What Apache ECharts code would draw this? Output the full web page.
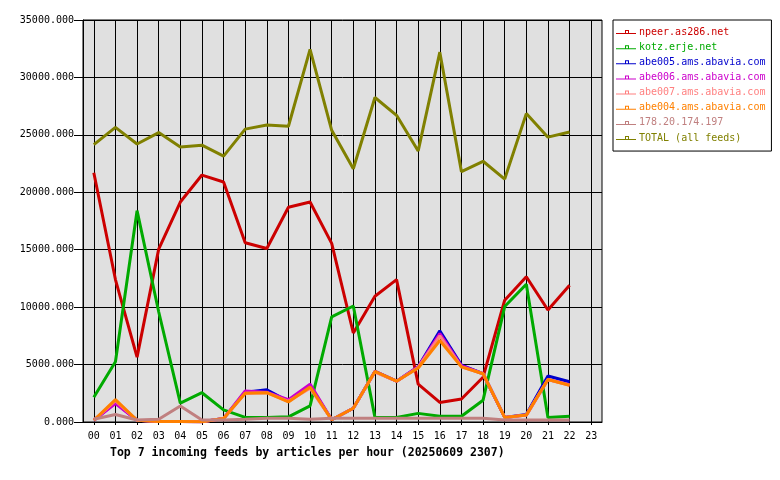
<!DOCTYPE html>
<html>
<head>
<meta charset="utf-8">
<script src="https://cdn.jsdelivr.net/npm/echarts@6/dist/echarts.min.js"></script>
<style>
html,body{margin:0;padding:0;background:#fff;}
#c{width:780px;height:480px;}
</style>
</head>
<body>
<div id="c"></div>
<script>
var hours = ['00','01','02','03','04','05','06','07','08','09','10','11','12','13','14','15','16','17','18','19','20','21','22','23'];
var seriesNames = ['npeer.as286.net','kotz.erje.net','abe005.ams.abavia.com','abe006.ams.abavia.com','abe007.ams.abavia.com','abe004.ams.abavia.com','178.20.174.197','TOTAL (all feeds)'];
var seriesColors = ['#cc0000','#00aa00','#0000cc','#cc00cc','#ff8080','#ff8000','#c08080','#808000'];

var npeer  = [21700, 12400, 5650, 15050, 19150, 21500, 20900, 15600, 15100, 18700, 19150, 15550, 7750, 10950, 12400, 3300, 1700, 2000, 3900, 10600, 12650, 9750, 11900];
var kotz   = [2150, 5250, 18400, 9600, 1650, 2550, 1050, 400, 400, 450, 1400, 9150, 10100, 400, 400, 750, 500, 500, 1900, 10050, 12000, 400, 500];
var abe005 = [150, 1700, 150, 50, 50, 20, 300, 2600, 2800, 1800, 3150, 200, 1200, 4400, 3550, 4800, 7950, 4950, 4200, 400, 650, 4000, 3500];
var abe006 = [150, 1600, 150, 50, 50, 20, 300, 2700, 2600, 1950, 3300, 200, 1200, 4400, 3550, 4800, 7700, 4900, 4200, 400, 600, 3700, 3250];
var abe007 = [150, 1850, 150, 50, 50, 20, 300, 2500, 2550, 1800, 2950, 200, 1200, 4350, 3550, 4750, 7500, 4800, 4200, 400, 600, 3700, 3200];
var abe004 = [150, 1950, 150, 50, 50, 20, 300, 2500, 2550, 1750, 3050, 200, 1200, 4400, 3550, 4700, 7100, 4800, 4200, 400, 600, 3700, 3200];
var host178 = [235, 650, 175, 235, 1400, 175, 175, 235, 320, 320, 235, 320, 320, 320, 320, 320, 320, 320, 320, 170, 170, 170, 170];
var total  = [24150, 25650, 24200, 25200, 23950, 24100, 23150, 25500, 25850, 25750, 32450, 25400, 22050, 28250, 26700, 23600, 32200, 21800, 22700, 21150, 26850, 24800, 25250];

var yMin = 0, yMax = 35000, yStep = 5000;
var titleText = 'Top 7 incoming feeds by articles per hour (20250609 2307)';

var allData = [npeer, kotz, abe005, abe006, abe007, abe004, host178, total];
var mono = 'DejaVu Sans Mono';

var chart = echarts.init(document.getElementById('c'), null, {renderer:'canvas'});
var option = {
  animation: false,
  backgroundColor: '#ffffff',
  title: {
    text: titleText,
    left: 110, top: 446,
    padding: 0,
    textStyle: {fontFamily: mono, fontSize: 11.5, fontWeight: 'bold', color: '#000', lineHeight: 14}
  },
  legend: {
    orient: 'vertical',
    left: 613, top: 20,
    padding: [6, 6, 7, 3],
    borderColor: '#000', borderWidth: 1,
    backgroundColor: '#fff',
    itemWidth: 20, itemHeight: 8, itemGap: 3.15,
    icon: 'path://M0,6 H20 V7 H0 Z M9,3 H13 V6 H12 V4 H10 V6 H9 Z',
    textStyle: {fontFamily: mono, fontSize: 10, lineHeight: 12, padding: [0, 0, 0, -2]},
    data: seriesNames.map(function(n, i){ return {name: n, textStyle: {color: seriesColors[i]}}; })
  },
  grid: {
    left: 83, right: 178, top: 20, bottom: 58,
    show: true, backgroundColor: '#e0e0e0', borderColor: '#000', borderWidth: 1
  },
  xAxis: [{
    type: 'category', data: hours, boundaryGap: true,
    axisLine: {show: true, lineStyle: {color: '#000', width: 1}},
    axisTick: {show: true, alignWithLabel: true, interval: 0, length: 3, lineStyle: {color: '#000'}},
    axisLabel: {interval: 0, margin: 9, fontFamily: mono, fontSize: 10, color: '#000'},
    splitLine: {show: false}
  }, {
    type: 'category', data: hours, boundaryGap: true, position: 'bottom',
    axisLine: {show: false},
    axisTick: {show: true, inside: true, alignWithLabel: true, interval: 0, length: 402, lineStyle: {color: '#000', width: 1}},
    axisLabel: {show: false},
    splitLine: {show: false}
  }],
  yAxis: {
    type: 'value', min: yMin, max: yMax, interval: yStep,
    axisLine: {show: true, lineStyle: {color: '#000'}},
    axisTick: {show: true, length: 9, lineStyle: {color: '#000'}},
    axisLabel: {margin: 9, fontFamily: mono, fontSize: 10, color: '#000',
      formatter: function(v){ return v.toFixed(3); }},
    splitLine: {show: true, lineStyle: {color: '#000', width: 1}}
  },
  series: seriesNames.map(function(n, i){
    return {
      name: n, type: 'line', data: allData[i],
      xAxisIndex: 0,
      symbol: 'none', showSymbol: false,
      lineStyle: {color: seriesColors[i], width: 3},
      itemStyle: {color: seriesColors[i]},
      emphasis: {disabled: true}
    };
  })
};
chart.setOption(option);
</script>
</body>
</html>
